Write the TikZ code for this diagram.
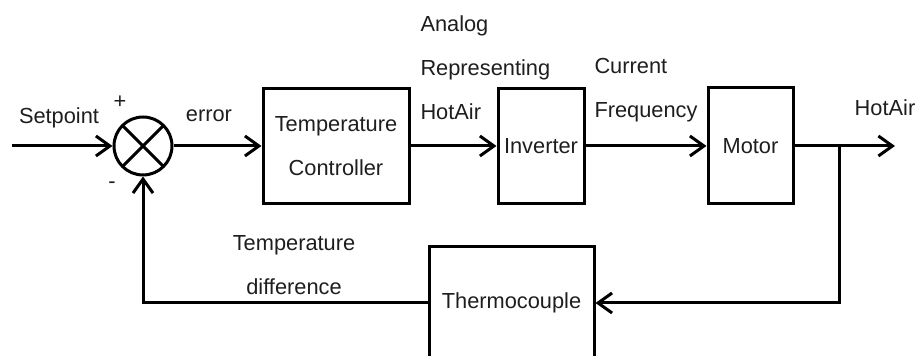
\documentclass[tikz,border=0pt]{standalone}
\usepackage{fontspec}
\setsansfont{Liberation Sans}
\usetikzlibrary{arrows.meta, positioning, calc}
\definecolor{cink}{HTML}{1E1E1E}
\tikzset{
  every picture/.style={font=\sffamily\fontsize{10.9}{22}\selectfont, line width=1.5pt, x=0.5pt, y=-0.5pt},
  blk/.style 2 args={draw=black, minimum width=#1, minimum height=#2, inner sep=0pt, align=center, text=cink},
  sum/.style={draw=black, circle, minimum size=29pt, inner sep=0pt,
    path picture={\draw (path picture bounding box.north west) -- (path picture bounding box.south east)
                        (path picture bounding box.north east) -- (path picture bounding box.south west);}},
  arrow/.style={-{Straight Barb[length=7pt, width=10pt]}, draw=black, line width=1.5pt},
  lbl/.style={text=cink, inner sep=0pt},
}

\begin{document}
\begin{tikzpicture}
  \useasboundingbox (0,0) rectangle (923,356);
  \node[sum] (s) at (143,146) {};
  \node[blk={73pt}{57.5pt}] (ctrl) at (336,146) {Temperature\\Controller};
  \node[blk={43pt}{57.5pt}] (inv) at (541,146) {Inverter};
  \node[blk={42.5pt}{58pt}] (mot) at (750.5,146) {Motor};
  \node[blk={82.5pt}{56pt}] (tc) at (511.5,303) {Thermocouple};
  \coordinate (in) at (12,146);
  \coordinate (br) at (839,146);
  \coordinate (out) at (895,146);
  % forward path
  \draw[arrow] (in) -- (s);
  \draw[arrow] (s) -- (ctrl);
  \draw[arrow] (ctrl) -- (inv);
  \draw[arrow] (inv) -- (mot);
  \draw[arrow] (mot) -- (out);
  % feedback
  \draw[arrow] (br) |- (tc.east);
  \draw[arrow] (tc.west) -| (s.south);
  % labels
  \node[lbl] (lsp) at (59,118) {Setpoint};
  \node[lbl] (lpl) at (120,102) {+};
  \node[lbl] (lmi) at (112,185) {-};
  \node[lbl] (lerr) at (209,116) {error};
  \node[lbl, align=left, anchor=west] (lan) at (419,68) {Analog\\Representing\\HotAir};
  \node[lbl, align=left, anchor=west] (lcf) at (593,90) {Current\\Frequency};
  \node[lbl] (lout) at (885,108) {HotAir};
  \node[lbl, align=center] (ltd) at (294,265) {Temperature\\difference};
\end{tikzpicture}
\end{document}
